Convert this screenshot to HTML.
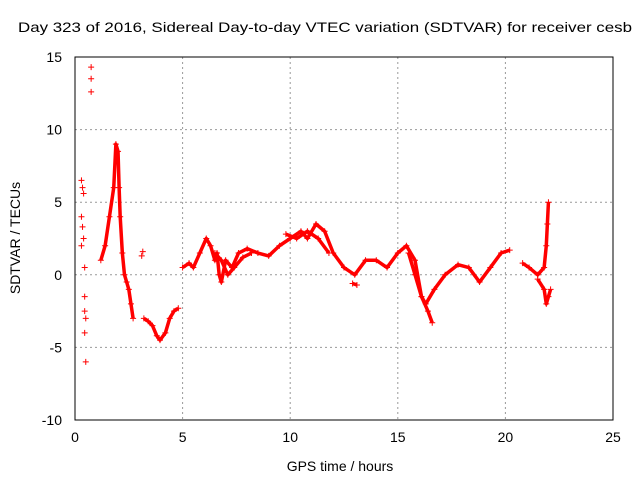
<!DOCTYPE html>
<html><head><meta charset="utf-8"><style>
body{margin:0;background:#fff}
svg{font-family:"Liberation Sans",sans-serif;font-size:14px}
</style></head><body>
<svg id="c" width="640" height="480" xmlns="http://www.w3.org/2000/svg">
<text x="18" y="32" textLength="614" lengthAdjust="spacingAndGlyphs">Day 323 of 2016, Sidereal Day-to-day VTEC variation (SDTVAR) for receiver cesb</text>
<text x="340" y="471" text-anchor="middle">GPS time / hours</text>
<text transform="translate(20,238) rotate(-90)" text-anchor="middle">SDTVAR / TECUs</text>
<g id="grid"></g><g id="marks"></g>
<rect x="75" y="57" width="538" height="363" fill="none" stroke="#000"/>
</svg>
<script>
const xTicks=[0,5,10,15,20,25];
const yTicks=[-10,-5,0,5,10,15];
const scatterA=[[0.3,6.5],[0.35,6],[0.4,5.6],[0.3,4],[0.35,3.3],[0.4,2.5],[0.3,2],[0.45,0.5],[0.45,-1.5],[0.45,-2.5],[0.5,-3],[0.45,-4],[0.5,-6],[0.75,14.3],[0.75,13.5],[0.75,12.6],[3.1,1.3],[3.15,1.6]];
const seg1=[[1.2,1],[1.4,2],[1.6,4],[1.8,6],[1.9,9],[2.0,8.5],[2.05,6],[2.1,4],[2.2,1.5],[2.3,0],[2.4,-0.5],[2.5,-1],[2.6,-2],[2.7,-3]];
const seg2=[[3.2,-3],[3.4,-3.2],[3.6,-3.5],[3.8,-4.2],[3.95,-4.5],[4.2,-4],[4.4,-3],[4.6,-2.5],[4.8,-2.3]];
const seg3=[[5,0.5],[5.3,0.8],[5.5,0.5],[5.8,1.5],[6.1,2.5],[6.3,2],[6.5,1],[6.6,1.5],[6.7,0],[6.8,-0.5],[7,1],[7.3,0.5],[7.6,1.5],[8,1.8],[8.5,1.5],[9,1.3],[9.5,2],[10,2.5],[10.5,3],[10.8,2.5],[11.2,3.5],[11.6,3],[12,1.5],[12.5,0.5],[13,0],[13.5,1],[14,1],[14.5,0.5],[15,1.5],[15.4,2],[15.8,1],[16.1,-1.5],[16.3,-2],[16.7,-1],[17.2,0],[17.8,0.7],[18.3,0.5],[18.8,-0.5],[19.3,0.5],[19.8,1.5],[20.2,1.7]];
const seg4=[[6.5,1.5],[6.8,1],[7.1,0],[7.4,0.5],[7.8,1.2],[8.2,1.5]];
const seg5=[[9.8,2.8],[10.3,2.5],[10.8,3],[11.3,2.5],[11.8,1.5]];
const seg6=[[15.5,1.5],[15.8,0],[16.1,-1.5],[16.4,-2.5],[16.6,-3.3]];
const seg7=[[12.9,-0.6],[13.1,-0.7]];
const seg8=[[20.8,0.8],[21.1,0.5],[21.5,0],[21.8,0.5],[21.9,2],[21.95,3.5],[22,5]];
const seg9=[[21.5,-0.3],[21.8,-1],[21.9,-2],[22,-1.5],[22.1,-1]];
const X=h=>75+h*538/25, Y=v=>57+(15-v)*363/25;
const ns="http://www.w3.org/2000/svg",g=document.getElementById('grid'),m=document.getElementById('marks');
function mk(t,a,p){const e=document.createElementNS(ns,t);for(const k in a)e.setAttribute(k,a[k]);p.appendChild(e);return e;}
xTicks.forEach(t=>{
 if(t>0&&t<25){const l=mk('line',{x1:X(t),x2:X(t),y1:57,y2:420,stroke:'#999','stroke-dasharray':'2,3'},g);
 
 }
 const tx=mk('text',{x:X(t),y:442,'text-anchor':'middle'},g);tx.textContent=t;
 
 
});
yTicks.forEach(t=>{
 if(t>-10&&t<15){const l=mk('line',{x1:75,x2:613,y1:Y(t),y2:Y(t),stroke:'#999','stroke-dasharray':'2,3'},g);
 
 }
 const tx=mk('text',{x:62,y:Y(t)+5,'text-anchor':'end'},g);tx.textContent=t;
 
 
});
function plus(p){const x=X(p[0]),y=Y(p[1]);
 const e=mk('path',{d:`M${x-3} ${y}h6M${x} ${y-3}v6`,stroke:'#f00','stroke-width':1},m);
 
 }
[seg1,seg2,seg3,seg4,seg5,seg6,seg7,seg8,seg9].forEach(s=>{
 const l=mk('polyline',{points:s.map(p=>X(p[0])+','+Y(p[1])).join(' '),fill:'none',stroke:'#f00','stroke-width':3.5,'stroke-linejoin':'round'},m);
 
 
 s.forEach(plus);
});
scatterA.forEach(plus);
</script>
</body></html>
